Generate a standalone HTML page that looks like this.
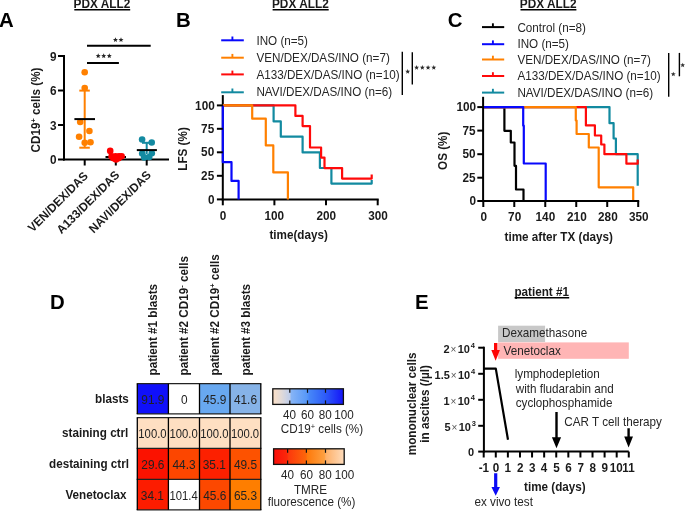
<!DOCTYPE html>
<html><head><meta charset="utf-8"><style>
html,body{margin:0;padding:0;background:#fff;width:685px;height:511px;overflow:hidden}
svg{display:block;will-change:transform}
text{font-family:"Liberation Sans", sans-serif}
</style></head><body>
<svg width="685" height="511" viewBox="0 0 685 511">
<text transform="translate(-1,27.3) scale(1,1.025)" font-size="20.4" font-weight="bold" text-anchor="start" fill="#000" >A</text>
<text transform="translate(73.55,8.1) scale(1,1.025)" font-size="11.85" font-weight="bold" text-anchor="start" fill="#1a1a1a" >PDX ALL2</text>
<line x1="74.3" y1="9.7" x2="130.20000000000002" y2="9.7" stroke="#000" stroke-width="1.5" />
<line x1="64" y1="55" x2="64" y2="160.5" stroke="#000" stroke-width="2" />
<line x1="63" y1="159.5" x2="169" y2="159.5" stroke="#000" stroke-width="2" />
<line x1="58" y1="56" x2="64" y2="56" stroke="#000" stroke-width="2" />
<text transform="translate(50,60.5) scale(1,1.025)" font-size="11.8" font-weight="bold" text-anchor="start" fill="#1a1a1a" >9</text>
<line x1="58" y1="90.5" x2="64" y2="90.5" stroke="#000" stroke-width="2" />
<text transform="translate(50,95.0) scale(1,1.025)" font-size="11.8" font-weight="bold" text-anchor="start" fill="#1a1a1a" >6</text>
<line x1="58" y1="125" x2="64" y2="125" stroke="#000" stroke-width="2" />
<text transform="translate(50,129.5) scale(1,1.025)" font-size="11.8" font-weight="bold" text-anchor="start" fill="#1a1a1a" >3</text>
<line x1="58" y1="159.5" x2="64" y2="159.5" stroke="#000" stroke-width="2" />
<text transform="translate(50,164.0) scale(1,1.025)" font-size="11.8" font-weight="bold" text-anchor="start" fill="#1a1a1a" >0</text>
<line x1="84.7" y1="159.5" x2="84.7" y2="165.5" stroke="#000" stroke-width="2" />
<line x1="115.8" y1="159.5" x2="115.8" y2="165.5" stroke="#000" stroke-width="2" />
<line x1="146.7" y1="159.5" x2="146.7" y2="165.5" stroke="#000" stroke-width="2" />
<text transform="translate(40.25,152.4) rotate(-90) scale(1,1.025)" font-size="11.7" font-weight="bold" text-anchor="start" fill="#1a1a1a" >CD19<tspan font-size="7.5" dy="-4">+</tspan><tspan dy="4"> cells (%)</tspan></text>
<text transform="translate(88.7,176.8) rotate(-45) scale(1,1.025)" font-size="11.7" font-weight="bold" text-anchor="end" fill="#1a1a1a" >VEN/DEX/DAS</text>
<text transform="translate(120.3,175.7) rotate(-45) scale(1,1.025)" font-size="11.7" font-weight="bold" text-anchor="end" fill="#1a1a1a" >A133/DEX/DAS</text>
<text transform="translate(151.8,175.7) rotate(-45) scale(1,1.025)" font-size="11.7" font-weight="bold" text-anchor="end" fill="#1a1a1a" >NAVI/DEX/DAS</text>
<line x1="87" y1="45.8" x2="150.7" y2="45.8" stroke="#000" stroke-width="2" />
<line x1="87" y1="63" x2="118.9" y2="63" stroke="#000" stroke-width="2" />
<polygon points="115.45,37.22 116.15,38.89 117.95,39.04 116.58,40.22 117.00,41.98 115.45,41.03 113.90,41.98 114.32,40.22 112.95,39.04 114.75,38.89" fill="#262626"/>
<polygon points="121.00,37.22 121.70,38.89 123.50,39.04 122.13,40.22 122.55,41.98 121.00,41.03 119.45,41.98 119.87,40.22 118.50,39.04 120.30,38.89" fill="#262626"/>
<polygon points="98.20,53.32 98.90,54.99 100.70,55.14 99.33,56.32 99.75,58.08 98.20,57.13 96.65,58.08 97.07,56.32 95.70,55.14 97.50,54.99" fill="#262626"/>
<polygon points="103.70,53.32 104.40,54.99 106.20,55.14 104.83,56.32 105.25,58.08 103.70,57.13 102.15,58.08 102.57,56.32 101.20,55.14 103.00,54.99" fill="#262626"/>
<polygon points="109.30,53.32 110.00,54.99 111.80,55.14 110.43,56.32 110.85,58.08 109.30,57.13 107.75,58.08 108.17,56.32 106.80,55.14 108.60,54.99" fill="#262626"/>
<line x1="84.7" y1="90.6" x2="84.7" y2="147.7" stroke="#ff8000" stroke-width="2" />
<line x1="79.3" y1="90.6" x2="89.8" y2="90.6" stroke="#ff8000" stroke-width="2" />
<line x1="79.3" y1="147.7" x2="89.8" y2="147.7" stroke="#ff8000" stroke-width="2" />
<circle cx="84.7" cy="72.3" r="3.3" fill="#ff8000"/>
<circle cx="84.7" cy="88" r="3.3" fill="#ff8000"/>
<circle cx="80.2" cy="122" r="3.3" fill="#ff8000"/>
<circle cx="89.4" cy="131" r="3.3" fill="#ff8000"/>
<circle cx="79.1" cy="136.8" r="3.3" fill="#ff8000"/>
<circle cx="84.7" cy="142.8" r="3.3" fill="#ff8000"/>
<circle cx="90.5" cy="142.2" r="3.3" fill="#ff8000"/>
<line x1="74.4" y1="119.1" x2="95" y2="119.1" stroke="#000" stroke-width="2" />
<line x1="105.5" y1="157" x2="126" y2="157" stroke="#000" stroke-width="2" />
<circle cx="110.2" cy="150.9" r="3.3" fill="#ff0000"/>
<circle cx="111.6" cy="156.4" r="3.3" fill="#ff0000"/>
<circle cx="115.5" cy="156.4" r="3.3" fill="#ff0000"/>
<circle cx="119" cy="156.3" r="3.3" fill="#ff0000"/>
<circle cx="121.6" cy="156.3" r="3.3" fill="#ff0000"/>
<circle cx="116" cy="159.4" r="3.3" fill="#ff0000"/>
<circle cx="118.5" cy="158.3" r="3.3" fill="#ff0000"/>
<circle cx="113.5" cy="158.3" r="3.3" fill="#ff0000"/>
<line x1="146.7" y1="142.8" x2="146.7" y2="154" stroke="#138aa1" stroke-width="2" />
<line x1="142" y1="142.8" x2="151.5" y2="142.8" stroke="#138aa1" stroke-width="2" />
<circle cx="142.1" cy="139.5" r="3.3" fill="#138aa1"/>
<circle cx="151.7" cy="142.5" r="3.3" fill="#138aa1"/>
<circle cx="142.2" cy="153.5" r="3.3" fill="#138aa1"/>
<circle cx="151.8" cy="153.3" r="3.3" fill="#138aa1"/>
<circle cx="144.2" cy="157.4" r="3.3" fill="#138aa1"/>
<circle cx="149.2" cy="157" r="3.3" fill="#138aa1"/>
<line x1="136.8" y1="150.1" x2="156.9" y2="150.1" stroke="#000" stroke-width="2" />
<text transform="translate(176,27.2) scale(1,1.025)" font-size="20.4" font-weight="bold" text-anchor="start" fill="#000" >B</text>
<text transform="translate(271.95,8.1) scale(1,1.025)" font-size="11.85" font-weight="bold" text-anchor="start" fill="#1a1a1a" >PDX ALL2</text>
<line x1="272.6" y1="9.7" x2="328.7" y2="9.7" stroke="#000" stroke-width="1.5" />
<line x1="221.2" y1="40.3" x2="243.8" y2="40.3" stroke="#0808fc" stroke-width="2" />
<line x1="232.4" y1="36.5" x2="232.4" y2="40.3" stroke="#0808fc" stroke-width="1.9" />
<text transform="translate(256.4,44.7) scale(1,1.025)" font-size="11.7" font-weight="normal" text-anchor="start" fill="#262626" >INO (n=5)</text>
<line x1="221.2" y1="57.7" x2="243.8" y2="57.7" stroke="#ff8000" stroke-width="2" />
<line x1="232.4" y1="53.900000000000006" x2="232.4" y2="57.7" stroke="#ff8000" stroke-width="1.9" />
<text transform="translate(256.4,61.8) scale(1,1.025)" font-size="11.7" font-weight="normal" text-anchor="start" fill="#262626" >VEN/DEX/DAS/INO (n=7)</text>
<line x1="221.2" y1="74.4" x2="243.8" y2="74.4" stroke="#ff0a0a" stroke-width="2" />
<line x1="232.4" y1="70.60000000000001" x2="232.4" y2="74.4" stroke="#ff0a0a" stroke-width="1.9" />
<text transform="translate(256.4,78.6) scale(1,1.025)" font-size="11.7" font-weight="normal" text-anchor="start" fill="#262626" >A133/DEX/DAS/INO (n=10)</text>
<line x1="221.2" y1="92.3" x2="243.8" y2="92.3" stroke="#128aa0" stroke-width="2" />
<line x1="232.4" y1="88.5" x2="232.4" y2="92.3" stroke="#128aa0" stroke-width="1.9" />
<text transform="translate(256.4,96.0) scale(1,1.025)" font-size="11.7" font-weight="normal" text-anchor="start" fill="#262626" >NAVI/DEX/DAS/INO (n=6)</text>
<line x1="402.3" y1="51.7" x2="402.3" y2="95" stroke="#000" stroke-width="1.4" />
<line x1="412.3" y1="52.3" x2="412.3" y2="84.6" stroke="#000" stroke-width="1.4" />
<polygon points="407.70,69.02 408.34,70.72 410.15,70.80 408.73,71.93 409.21,73.68 407.70,72.68 406.19,73.68 406.67,71.93 405.25,70.80 407.06,70.72" fill="#2a2a2a"/>
<polygon points="416.60,65.07 417.24,66.77 419.05,66.85 417.63,67.98 418.11,69.73 416.60,68.73 415.09,69.73 415.57,67.98 414.15,66.85 415.96,66.77" fill="#2a2a2a"/>
<polygon points="422.33,65.07 422.97,66.77 424.78,66.85 423.36,67.98 423.84,69.73 422.33,68.73 420.82,69.73 421.30,67.98 419.88,66.85 421.69,66.77" fill="#2a2a2a"/>
<polygon points="428.06,65.07 428.70,66.77 430.51,66.85 429.09,67.98 429.57,69.73 428.06,68.73 426.55,69.73 427.03,67.98 425.61,66.85 427.42,66.77" fill="#2a2a2a"/>
<polygon points="433.79,65.07 434.43,66.77 436.24,66.85 434.82,67.98 435.30,69.73 433.79,68.73 432.28,69.73 432.76,67.98 431.34,66.85 433.15,66.77" fill="#2a2a2a"/>
<line x1="222.8" y1="95.1" x2="222.8" y2="200.5" stroke="#000" stroke-width="2" />
<line x1="221.8" y1="199.5" x2="378.7" y2="199.5" stroke="#000" stroke-width="2" />
<path d="M222.8,105.4 H273.6 V121.4 H280.8 V136.7 H302.6 V152.4 H319.9 V168.0 H331.4 V183.6 H371.7 V180.0" fill="none" stroke="#128aa0" stroke-width="2.2" stroke-linejoin="round" stroke-linecap="butt" />
<path d="M222.8,105.4 H295.4 V115.9 H302.6 V126.1 H310 V147.5 H321.1 V157.6 H324.5 V168.1 H342.1 V178.6 H371.7 V174.6" fill="none" stroke="#ff0a0a" stroke-width="2.2" stroke-linejoin="round" stroke-linecap="butt" />
<path d="M222.8,105.4 H252.2 V118.7 H265.8 V145.4 H273.3 V172.4 H287.9 V199.4" fill="none" stroke="#ff8000" stroke-width="2.2" stroke-linejoin="round" stroke-linecap="butt" />
<path d="M222.8,105.4 V162.2 H231.5 V180.9 H238.6 V199.4" fill="none" stroke="#0808fc" stroke-width="2.2" stroke-linejoin="round" stroke-linecap="butt" />
<line x1="216.9" y1="105.4" x2="222.8" y2="105.4" stroke="#000" stroke-width="2" />
<text transform="translate(195.1,109.5) scale(1,1.025)" font-size="11.8" font-weight="bold" text-anchor="start" fill="#1a1a1a" >100</text>
<line x1="216.9" y1="128.8" x2="222.8" y2="128.8" stroke="#000" stroke-width="2" />
<text transform="translate(201.1,132.9) scale(1,1.025)" font-size="11.8" font-weight="bold" text-anchor="start" fill="#1a1a1a" >75</text>
<line x1="216.9" y1="152.3" x2="222.8" y2="152.3" stroke="#000" stroke-width="2" />
<text transform="translate(201.1,156.4) scale(1,1.025)" font-size="11.8" font-weight="bold" text-anchor="start" fill="#1a1a1a" >50</text>
<line x1="216.9" y1="175.8" x2="222.8" y2="175.8" stroke="#000" stroke-width="2" />
<text transform="translate(201.1,179.9) scale(1,1.025)" font-size="11.8" font-weight="bold" text-anchor="start" fill="#1a1a1a" >25</text>
<line x1="216.9" y1="199.4" x2="222.8" y2="199.4" stroke="#000" stroke-width="2" />
<text transform="translate(208.1,203.5) scale(1,1.025)" font-size="11.8" font-weight="bold" text-anchor="start" fill="#1a1a1a" >0</text>
<line x1="222.8" y1="199.5" x2="222.8" y2="205.3" stroke="#000" stroke-width="2" />
<text transform="translate(219.8,219.7) scale(1,1.025)" font-size="11.8" font-weight="bold" text-anchor="start" fill="#1a1a1a" >0</text>
<line x1="274.4" y1="199.5" x2="274.4" y2="205.3" stroke="#000" stroke-width="2" />
<text transform="translate(264.4,219.7) scale(1,1.025)" font-size="11.8" font-weight="bold" text-anchor="start" fill="#1a1a1a" >100</text>
<line x1="326.0" y1="199.5" x2="326.0" y2="205.3" stroke="#000" stroke-width="2" />
<text transform="translate(316.5,219.7) scale(1,1.025)" font-size="11.8" font-weight="bold" text-anchor="start" fill="#1a1a1a" >200</text>
<line x1="377.7" y1="199.5" x2="377.7" y2="205.3" stroke="#000" stroke-width="2" />
<text transform="translate(368.2,219.7) scale(1,1.025)" font-size="11.8" font-weight="bold" text-anchor="start" fill="#1a1a1a" >300</text>
<text transform="translate(269.4,239.1) scale(1,1.025)" font-size="11.7" font-weight="bold" text-anchor="start" fill="#1a1a1a" >time(days)</text>
<text transform="translate(187.15,170.7) rotate(-90) scale(1,1.025)" font-size="11.7" font-weight="bold" text-anchor="start" fill="#1a1a1a" >LFS (%)</text>
<text transform="translate(447.8,27.2) scale(1,1.025)" font-size="20.4" font-weight="bold" text-anchor="start" fill="#000" >C</text>
<text transform="translate(519.75,8.1) scale(1,1.025)" font-size="11.85" font-weight="bold" text-anchor="start" fill="#1a1a1a" >PDX ALL2</text>
<line x1="520.5" y1="9.7" x2="576.4" y2="9.7" stroke="#000" stroke-width="1.5" />
<line x1="482" y1="27.1" x2="504.2" y2="27.1" stroke="#000" stroke-width="2" />
<line x1="492.9" y1="23.3" x2="492.9" y2="27.1" stroke="#000" stroke-width="1.9" />
<text transform="translate(517.4,31.6) scale(1,1.025)" font-size="11.7" font-weight="normal" text-anchor="start" fill="#262626" >Control (n=8)</text>
<line x1="482" y1="44.2" x2="504.2" y2="44.2" stroke="#0808fc" stroke-width="2" />
<line x1="492.9" y1="40.400000000000006" x2="492.9" y2="44.2" stroke="#0808fc" stroke-width="1.9" />
<text transform="translate(517.4,48.2) scale(1,1.025)" font-size="11.7" font-weight="normal" text-anchor="start" fill="#262626" >INO (n=5)</text>
<line x1="482" y1="59.5" x2="504.2" y2="59.5" stroke="#ff8000" stroke-width="2" />
<line x1="492.9" y1="55.7" x2="492.9" y2="59.5" stroke="#ff8000" stroke-width="1.9" />
<text transform="translate(517.4,63.5) scale(1,1.025)" font-size="11.7" font-weight="normal" text-anchor="start" fill="#262626" >VEN/DEX/DAS/INO (n=7)</text>
<line x1="482" y1="76.0" x2="504.2" y2="76.0" stroke="#ff0a0a" stroke-width="2" />
<line x1="492.9" y1="72.2" x2="492.9" y2="76.0" stroke="#ff0a0a" stroke-width="1.9" />
<text transform="translate(517.4,80.3) scale(1,1.025)" font-size="11.7" font-weight="normal" text-anchor="start" fill="#262626" >A133/DEX/DAS/INO (n=10)</text>
<line x1="482" y1="92.6" x2="504.2" y2="92.6" stroke="#128aa0" stroke-width="2" />
<line x1="492.9" y1="88.8" x2="492.9" y2="92.6" stroke="#128aa0" stroke-width="1.9" />
<text transform="translate(517.4,96.9) scale(1,1.025)" font-size="11.7" font-weight="normal" text-anchor="start" fill="#262626" >NAVI/DEX/DAS/INO (n=6)</text>
<line x1="668.7" y1="52.9" x2="668.7" y2="96.7" stroke="#000" stroke-width="1.4" />
<line x1="679.4" y1="52.9" x2="679.4" y2="76.3" stroke="#000" stroke-width="1.4" />
<polygon points="673.30,71.67 673.94,73.37 675.75,73.45 674.33,74.58 674.81,76.33 673.30,75.33 671.79,76.33 672.27,74.58 670.85,73.45 672.66,73.37" fill="#333"/>
<polygon points="682.70,62.67 683.34,64.37 685.15,64.45 683.73,65.58 684.21,67.33 682.70,66.33 681.19,67.33 681.67,65.58 680.25,64.45 682.06,64.37" fill="#333"/>
<path d="M483.1,107.1 H504.4 V130.8 H510.8 V142.5 H514.5 V165.8 H516 V189.5 H523.5 V201" fill="none" stroke="#000" stroke-width="2.2" stroke-linejoin="round" stroke-linecap="butt" />
<path d="M483.1,107.1 H609.5 V123.2 H613.6 V138.5 H615.9 V154.2 H637.7 V185.8" fill="none" stroke="#128aa0" stroke-width="2.2" stroke-linejoin="round" stroke-linecap="butt" />
<path d="M483.1,107.1 H585.9 V125.4 H594.9 V135.5 H601.2 V144.5 H604.4 V154.2 H626.4 V163.7 H637.7 V159.6" fill="none" stroke="#ff0a0a" stroke-width="2.2" stroke-linejoin="round" stroke-linecap="butt" />
<path d="M483.1,107.1 H575.8 V120.5 H576.6 V134 H588.8 V147.5 H598.7 V187.3 H633.2 V201" fill="none" stroke="#ff8000" stroke-width="2.2" stroke-linejoin="round" stroke-linecap="butt" />
<path d="M483.1,107.1 H523.2 V125.7 H523.8 V163.5 H545.7 V201" fill="none" stroke="#0808fc" stroke-width="2.2" stroke-linejoin="round" stroke-linecap="butt" />
<line x1="483.1" y1="96.8" x2="483.1" y2="202" stroke="#000" stroke-width="2" />
<line x1="482.1" y1="201" x2="639.2" y2="201" stroke="#000" stroke-width="2" />
<line x1="477.3" y1="107.1" x2="483.1" y2="107.1" stroke="#000" stroke-width="2" />
<text transform="translate(456.4,111.3) scale(1,1.025)" font-size="11.8" font-weight="bold" text-anchor="start" fill="#1a1a1a" >100</text>
<line x1="477.3" y1="130.6" x2="483.1" y2="130.6" stroke="#000" stroke-width="2" />
<text transform="translate(462.4,134.8) scale(1,1.025)" font-size="11.8" font-weight="bold" text-anchor="start" fill="#1a1a1a" >75</text>
<line x1="477.3" y1="154.2" x2="483.1" y2="154.2" stroke="#000" stroke-width="2" />
<text transform="translate(462.4,158.4) scale(1,1.025)" font-size="11.8" font-weight="bold" text-anchor="start" fill="#1a1a1a" >50</text>
<line x1="477.3" y1="177.7" x2="483.1" y2="177.7" stroke="#000" stroke-width="2" />
<text transform="translate(462.4,181.9) scale(1,1.025)" font-size="11.8" font-weight="bold" text-anchor="start" fill="#1a1a1a" >25</text>
<line x1="477.3" y1="201" x2="483.1" y2="201" stroke="#000" stroke-width="2" />
<text transform="translate(469.4,205.2) scale(1,1.025)" font-size="11.8" font-weight="bold" text-anchor="start" fill="#1a1a1a" >0</text>
<line x1="483.3" y1="201" x2="483.3" y2="207" stroke="#000" stroke-width="2" />
<text transform="translate(480.6,221.3) scale(1,1.025)" font-size="11.8" font-weight="bold" text-anchor="start" fill="#1a1a1a" >0</text>
<line x1="514.28" y1="201" x2="514.28" y2="207" stroke="#000" stroke-width="2" />
<text transform="translate(508.08,221.3) scale(1,1.025)" font-size="11.8" font-weight="bold" text-anchor="start" fill="#1a1a1a" >70</text>
<line x1="545.26" y1="201" x2="545.26" y2="207" stroke="#000" stroke-width="2" />
<text transform="translate(535.56,221.3) scale(1,1.025)" font-size="11.8" font-weight="bold" text-anchor="start" fill="#1a1a1a" >140</text>
<line x1="576.24" y1="201" x2="576.24" y2="207" stroke="#000" stroke-width="2" />
<text transform="translate(567.04,221.3) scale(1,1.025)" font-size="11.8" font-weight="bold" text-anchor="start" fill="#1a1a1a" >210</text>
<line x1="607.22" y1="201" x2="607.22" y2="207" stroke="#000" stroke-width="2" />
<text transform="translate(598.02,221.3) scale(1,1.025)" font-size="11.8" font-weight="bold" text-anchor="start" fill="#1a1a1a" >280</text>
<line x1="638.2" y1="201" x2="638.2" y2="207" stroke="#000" stroke-width="2" />
<text transform="translate(629.0,221.3) scale(1,1.025)" font-size="11.8" font-weight="bold" text-anchor="start" fill="#1a1a1a" >350</text>
<text transform="translate(504.5,240.9) scale(1,1.025)" font-size="11.7" font-weight="bold" text-anchor="start" fill="#1a1a1a" >time after TX (days)</text>
<text transform="translate(447.45,169.95) rotate(-90) scale(1,1.025)" font-size="11.7" font-weight="bold" text-anchor="start" fill="#1a1a1a" >OS (%)</text>
<text transform="translate(50,309.4) scale(1,1.025)" font-size="20.4" font-weight="bold" text-anchor="start" fill="#000" >D</text>
<rect x="137.3" y="383.7" width="31.1" height="30.2" fill="#1010fa"/>
<rect x="168.4" y="383.7" width="31.1" height="30.2" fill="#ffffff"/>
<rect x="199.5" y="383.7" width="30.5" height="30.2" fill="#68a8f0"/>
<rect x="230.0" y="383.7" width="30.8" height="30.2" fill="#86b3e8"/>
<rect x="137.3" y="417.7" width="31.1" height="30.7" fill="#fedfc2"/>
<rect x="168.4" y="417.7" width="31.1" height="30.7" fill="#fedfc2"/>
<rect x="199.5" y="417.7" width="30.5" height="30.7" fill="#fedfc2"/>
<rect x="230.0" y="417.7" width="30.8" height="30.7" fill="#fedfc2"/>
<rect x="137.3" y="448.4" width="31.1" height="30.9" fill="#fb1200"/>
<rect x="168.4" y="448.4" width="31.1" height="30.9" fill="#fc4600"/>
<rect x="199.5" y="448.4" width="30.5" height="30.9" fill="#fc2000"/>
<rect x="230.0" y="448.4" width="30.8" height="30.9" fill="#fd5200"/>
<rect x="137.3" y="479.3" width="31.1" height="30.6" fill="#fc1c00"/>
<rect x="168.4" y="479.3" width="31.1" height="30.6" fill="#ffffff"/>
<rect x="199.5" y="479.3" width="30.5" height="30.6" fill="#fc4800"/>
<rect x="230.0" y="479.3" width="30.8" height="30.6" fill="#fe7e00"/>
<line x1="136.70000000000002" y1="383.7" x2="261.40000000000003" y2="383.7" stroke="#222" stroke-width="1.2" />
<line x1="136.70000000000002" y1="413.9" x2="261.40000000000003" y2="413.9" stroke="#222" stroke-width="1.2" />
<line x1="137.3" y1="383.7" x2="137.3" y2="413.9" stroke="#000" stroke-width="1.3" />
<line x1="168.4" y1="383.7" x2="168.4" y2="413.9" stroke="#000" stroke-width="1.3" />
<line x1="199.5" y1="383.7" x2="199.5" y2="413.9" stroke="#000" stroke-width="1.3" />
<line x1="230.0" y1="383.7" x2="230.0" y2="413.9" stroke="#000" stroke-width="1.3" />
<line x1="260.8" y1="383.7" x2="260.8" y2="413.9" stroke="#000" stroke-width="1.3" />
<line x1="136.70000000000002" y1="417.7" x2="261.40000000000003" y2="417.7" stroke="#222" stroke-width="1.2" />
<line x1="136.70000000000002" y1="448.4" x2="261.40000000000003" y2="448.4" stroke="#222" stroke-width="1.2" />
<line x1="136.70000000000002" y1="479.3" x2="261.40000000000003" y2="479.3" stroke="#222" stroke-width="1.2" />
<line x1="136.70000000000002" y1="509.9" x2="261.40000000000003" y2="509.9" stroke="#222" stroke-width="1.2" />
<line x1="137.3" y1="417.7" x2="137.3" y2="509.9" stroke="#000" stroke-width="1.3" />
<line x1="168.4" y1="417.7" x2="168.4" y2="509.9" stroke="#000" stroke-width="1.3" />
<line x1="199.5" y1="417.7" x2="199.5" y2="509.9" stroke="#000" stroke-width="1.3" />
<line x1="230.0" y1="417.7" x2="230.0" y2="509.9" stroke="#000" stroke-width="1.3" />
<line x1="260.8" y1="417.7" x2="260.8" y2="509.9" stroke="#000" stroke-width="1.3" />
<text transform="translate(141.35,403.7) scale(1,1.025)" font-size="11.9" font-weight="normal" text-anchor="start" fill="#222" >91.9</text>
<text transform="translate(180.95,403.7) scale(1,1.025)" font-size="11.9" font-weight="normal" text-anchor="start" fill="#222" >0</text>
<text transform="translate(203.25,403.7) scale(1,1.025)" font-size="11.9" font-weight="normal" text-anchor="start" fill="#222" >45.9</text>
<text transform="translate(233.9,403.7) scale(1,1.025)" font-size="11.9" font-weight="normal" text-anchor="start" fill="#222" >41.6</text>
<text transform="translate(138.35,437.95) scale(1,1.025)" font-size="11.9" font-weight="normal" text-anchor="start" fill="#222" ><tspan textLength="28.2" lengthAdjust="spacingAndGlyphs">100.0</tspan></text>
<text transform="translate(169.45,437.95) scale(1,1.025)" font-size="11.9" font-weight="normal" text-anchor="start" fill="#222" ><tspan textLength="28.2" lengthAdjust="spacingAndGlyphs">100.0</tspan></text>
<text transform="translate(200.25,437.95) scale(1,1.025)" font-size="11.9" font-weight="normal" text-anchor="start" fill="#222" ><tspan textLength="28.2" lengthAdjust="spacingAndGlyphs">100.0</tspan></text>
<text transform="translate(230.9,437.95) scale(1,1.025)" font-size="11.9" font-weight="normal" text-anchor="start" fill="#222" ><tspan textLength="28.2" lengthAdjust="spacingAndGlyphs">100.0</tspan></text>
<text transform="translate(141.35,468.75) scale(1,1.025)" font-size="11.9" font-weight="normal" text-anchor="start" fill="#222" >29.6</text>
<text transform="translate(172.45,468.75) scale(1,1.025)" font-size="11.9" font-weight="normal" text-anchor="start" fill="#222" >44.3</text>
<text transform="translate(202.75,468.75) scale(1,1.025)" font-size="11.9" font-weight="normal" text-anchor="start" fill="#222" >35.1</text>
<text transform="translate(233.9,468.75) scale(1,1.025)" font-size="11.9" font-weight="normal" text-anchor="start" fill="#222" >49.5</text>
<text transform="translate(140.85,499.5) scale(1,1.025)" font-size="11.9" font-weight="normal" text-anchor="start" fill="#222" >34.1</text>
<text transform="translate(169.45,499.5) scale(1,1.025)" font-size="11.9" font-weight="normal" text-anchor="start" fill="#222" ><tspan textLength="28.2" lengthAdjust="spacingAndGlyphs">101.4</tspan></text>
<text transform="translate(203.25,499.5) scale(1,1.025)" font-size="11.9" font-weight="normal" text-anchor="start" fill="#222" >45.6</text>
<text transform="translate(233.9,499.5) scale(1,1.025)" font-size="11.9" font-weight="normal" text-anchor="start" fill="#222" >65.3</text>
<text transform="translate(95.1,402.8) scale(1,1.025)" font-size="11.7" font-weight="bold" text-anchor="start" fill="#1a1a1a" >blasts</text>
<text transform="translate(62.1,436.7) scale(1,1.025)" font-size="11.7" font-weight="bold" text-anchor="start" fill="#1a1a1a" >staining ctrl</text>
<text transform="translate(49.1,468) scale(1,1.025)" font-size="11.7" font-weight="bold" text-anchor="start" fill="#1a1a1a" >destaining ctrl</text>
<text transform="translate(65.4,499.2) scale(1,1.025)" font-size="11.7" font-weight="bold" text-anchor="start" fill="#1a1a1a" >Venetoclax</text>
<text transform="translate(157.0,375.5) rotate(-90) scale(1,1.025)" font-size="11.7" font-weight="bold" text-anchor="start" fill="#1a1a1a" >patient #1 blasts</text>
<text transform="translate(187.85,375.5) rotate(-90) scale(1,1.025)" font-size="11.7" font-weight="bold" text-anchor="start" fill="#1a1a1a" >patient #2 CD19<tspan font-size="7.5" dy="-4">-</tspan><tspan dy="4"> cells</tspan></text>
<text transform="translate(218.7,375.5) rotate(-90) scale(1,1.025)" font-size="11.7" font-weight="bold" text-anchor="start" fill="#1a1a1a" >patient #2 CD19<tspan font-size="7.5" dy="-4">+</tspan><tspan dy="4"> cells</tspan></text>
<text transform="translate(249.55,375.5) rotate(-90) scale(1,1.025)" font-size="11.7" font-weight="bold" text-anchor="start" fill="#1a1a1a" >patient #3 blasts</text>
<defs>
<linearGradient id="g1" x1="0" x2="1" y1="0" y2="0">
<stop offset="0" stop-color="#fde0c6"/><stop offset="0.12" stop-color="#e2dad8"/><stop offset="0.24" stop-color="#bfcdea"/>
<stop offset="0.26" stop-color="#86b4f6"/><stop offset="0.48" stop-color="#5898f8"/><stop offset="0.52" stop-color="#4686f8"/>
<stop offset="0.74" stop-color="#2e5cf8"/><stop offset="1" stop-color="#1414f8"/></linearGradient>
<linearGradient id="g2" x1="0" x2="1" y1="0" y2="0">
<stop offset="0" stop-color="#fa0e0a"/><stop offset="0.19" stop-color="#fb280a"/><stop offset="0.21" stop-color="#fc380c"/><stop offset="0.46" stop-color="#fd660a"/>
<stop offset="0.48" stop-color="#fe7a0c"/><stop offset="0.72" stop-color="#fea040"/><stop offset="0.74" stop-color="#feb068"/><stop offset="1" stop-color="#fedcbc"/></linearGradient>
</defs>
<rect x="272.8" y="388.8" width="70.6" height="15.6" fill="url(#g1)" stroke="#111" stroke-width="1.3"/>
<line x1="289.8" y1="389" x2="289.8" y2="392.8" stroke="#111" stroke-width="1.2" />
<line x1="289.8" y1="400.4" x2="289.8" y2="404.4" stroke="#111" stroke-width="1.2" />
<line x1="307.5" y1="389" x2="307.5" y2="392.8" stroke="#111" stroke-width="1.2" />
<line x1="307.5" y1="400.4" x2="307.5" y2="404.4" stroke="#111" stroke-width="1.2" />
<line x1="325.5" y1="389" x2="325.5" y2="392.8" stroke="#111" stroke-width="1.2" />
<line x1="325.5" y1="400.4" x2="325.5" y2="404.4" stroke="#111" stroke-width="1.2" />
<text transform="translate(282.9,418.5) scale(1,1.025)" font-size="11.7" font-weight="normal" text-anchor="start" fill="#262626" >40</text>
<text transform="translate(301.1,418.5) scale(1,1.025)" font-size="11.7" font-weight="normal" text-anchor="start" fill="#262626" >60</text>
<text transform="translate(318.7,418.5) scale(1,1.025)" font-size="11.7" font-weight="normal" text-anchor="start" fill="#262626" >80</text>
<text transform="translate(334.2,418.5) scale(1,1.025)" font-size="11.7" font-weight="normal" text-anchor="start" fill="#262626" >100</text>
<text transform="translate(280.85,432.7) scale(1,1.025)" font-size="11.7" font-weight="normal" text-anchor="start" fill="#262626" >CD19<tspan font-size="7.5" dy="-4">+</tspan><tspan dy="4"> cells (%)</tspan></text>
<rect x="273.6" y="448.8" width="70.6" height="15.6" fill="url(#g2)" stroke="#111" stroke-width="1.3"/>
<line x1="287.6" y1="449" x2="287.6" y2="452.8" stroke="#111" stroke-width="1.2" />
<line x1="287.6" y1="460.4" x2="287.6" y2="464.4" stroke="#111" stroke-width="1.2" />
<line x1="306.4" y1="449" x2="306.4" y2="452.8" stroke="#111" stroke-width="1.2" />
<line x1="306.4" y1="460.4" x2="306.4" y2="464.4" stroke="#111" stroke-width="1.2" />
<line x1="325.5" y1="449" x2="325.5" y2="452.8" stroke="#111" stroke-width="1.2" />
<line x1="325.5" y1="460.4" x2="325.5" y2="464.4" stroke="#111" stroke-width="1.2" />
<text transform="translate(281.0,478.5) scale(1,1.025)" font-size="11.7" font-weight="normal" text-anchor="start" fill="#262626" >40</text>
<text transform="translate(299.9,478.5) scale(1,1.025)" font-size="11.7" font-weight="normal" text-anchor="start" fill="#262626" >60</text>
<text transform="translate(318.7,478.5) scale(1,1.025)" font-size="11.7" font-weight="normal" text-anchor="start" fill="#262626" >80</text>
<text transform="translate(334.8,478.5) scale(1,1.025)" font-size="11.7" font-weight="normal" text-anchor="start" fill="#262626" >100</text>
<text transform="translate(293.95,493.8) scale(1,1.025)" font-size="11.7" font-weight="normal" text-anchor="start" fill="#262626" >TMRE</text>
<text transform="translate(267.65,505.8) scale(1,1.025)" font-size="11.7" font-weight="normal" text-anchor="start" fill="#262626" >fluorescence (%)</text>
<text transform="translate(415,309.1) scale(1,1.025)" font-size="20.4" font-weight="bold" text-anchor="start" fill="#000" >E</text>
<text transform="translate(514.4,296.2) scale(1,1.025)" font-size="11.7" font-weight="bold" text-anchor="start" fill="#1a1a1a" >patient #1</text>
<line x1="514.6" y1="297.7" x2="569.2" y2="297.7" stroke="#000" stroke-width="1.4" />
<rect x="498.1" y="325.7" width="47" height="16.3" fill="#c8c8c8"/>
<rect x="498.1" y="342.4" width="130.7" height="16.4" fill="#ffb5b5"/>
<text transform="translate(502.1,336.9) scale(1,1.025)" font-size="11.7" font-weight="normal" text-anchor="start" fill="#262626" >Dexamethasone</text>
<text transform="translate(503.6,354.5) scale(1,1.025)" font-size="11.7" font-weight="normal" text-anchor="start" fill="#262626" >Venetoclax</text>
<path d="M494.0,343.0 H497.4 V349.9 H499.9 L495.65,360.8 L491.3,349.9 H494.0 Z" fill="#fe0505"/>
<line x1="483.9" y1="346.7" x2="483.9" y2="452.6" stroke="#000" stroke-width="2" />
<line x1="483.4" y1="451.6" x2="628.8" y2="451.6" stroke="#000" stroke-width="2" />
<line x1="478.2" y1="347.7" x2="483.9" y2="347.7" stroke="#000" stroke-width="2" />
<line x1="478.2" y1="373.8" x2="483.9" y2="373.8" stroke="#000" stroke-width="2" />
<line x1="478.2" y1="399.8" x2="483.9" y2="399.8" stroke="#000" stroke-width="2" />
<line x1="478.2" y1="425.8" x2="483.9" y2="425.8" stroke="#000" stroke-width="2" />
<line x1="478.2" y1="451.6" x2="483.9" y2="451.6" stroke="#000" stroke-width="2" />
<text transform="translate(443.6,352.7) scale(1,1.025)" font-size="11" font-weight="bold" text-anchor="start" fill="#1a1a1a" >2<tspan font-weight="normal" font-size="10" fill="#555" dx="0.8">×</tspan><tspan dx="1.4">10</tspan><tspan font-size="7.5" dy="-5" dx="0.8">4</tspan></text>
<text transform="translate(434.6,378.8) scale(1,1.025)" font-size="11" font-weight="bold" text-anchor="start" fill="#1a1a1a" >1.5<tspan font-weight="normal" font-size="10" fill="#555" dx="0.8">×</tspan><tspan dx="1.4">10</tspan><tspan font-size="7.5" dy="-5" dx="0.8">4</tspan></text>
<text transform="translate(443.6,404.8) scale(1,1.025)" font-size="11" font-weight="bold" text-anchor="start" fill="#1a1a1a" >1<tspan font-weight="normal" font-size="10" fill="#555" dx="0.8">×</tspan><tspan dx="1.4">10</tspan><tspan font-size="7.5" dy="-5" dx="0.8">4</tspan></text>
<text transform="translate(444.6,430.8) scale(1,1.025)" font-size="11" font-weight="bold" text-anchor="start" fill="#1a1a1a" >5<tspan font-weight="normal" font-size="10" fill="#555" dx="0.8">×</tspan><tspan dx="1.4">10</tspan><tspan font-size="7.5" dy="-5" dx="0.8">3</tspan></text>
<text transform="translate(468.1,455.6) scale(1,1.025)" font-size="11" font-weight="bold" text-anchor="start" fill="#1a1a1a" >0</text>
<line x1="483.7" y1="451.6" x2="483.7" y2="457.5" stroke="#000" stroke-width="2" />
<text transform="translate(478.7,471.5) scale(1,1.025)" font-size="11.7" font-weight="bold" text-anchor="start" fill="#1a1a1a" >-1</text>
<line x1="495.78999999999996" y1="451.6" x2="495.78999999999996" y2="457.5" stroke="#000" stroke-width="2" />
<text transform="translate(492.79,471.5) scale(1,1.025)" font-size="11.7" font-weight="bold" text-anchor="start" fill="#1a1a1a" >0</text>
<line x1="507.88" y1="451.6" x2="507.88" y2="457.5" stroke="#000" stroke-width="2" />
<text transform="translate(504.38,471.5) scale(1,1.025)" font-size="11.7" font-weight="bold" text-anchor="start" fill="#1a1a1a" >1</text>
<line x1="519.97" y1="451.6" x2="519.97" y2="457.5" stroke="#000" stroke-width="2" />
<text transform="translate(516.97,471.5) scale(1,1.025)" font-size="11.7" font-weight="bold" text-anchor="start" fill="#1a1a1a" >2</text>
<line x1="532.06" y1="451.6" x2="532.06" y2="457.5" stroke="#000" stroke-width="2" />
<text transform="translate(529.06,471.5) scale(1,1.025)" font-size="11.7" font-weight="bold" text-anchor="start" fill="#1a1a1a" >3</text>
<line x1="544.15" y1="451.6" x2="544.15" y2="457.5" stroke="#000" stroke-width="2" />
<text transform="translate(540.65,471.5) scale(1,1.025)" font-size="11.7" font-weight="bold" text-anchor="start" fill="#1a1a1a" >4</text>
<line x1="556.24" y1="451.6" x2="556.24" y2="457.5" stroke="#000" stroke-width="2" />
<text transform="translate(553.24,471.5) scale(1,1.025)" font-size="11.7" font-weight="bold" text-anchor="start" fill="#1a1a1a" >5</text>
<line x1="568.3299999999999" y1="451.6" x2="568.3299999999999" y2="457.5" stroke="#000" stroke-width="2" />
<text transform="translate(565.33,471.5) scale(1,1.025)" font-size="11.7" font-weight="bold" text-anchor="start" fill="#1a1a1a" >6</text>
<line x1="580.42" y1="451.6" x2="580.42" y2="457.5" stroke="#000" stroke-width="2" />
<text transform="translate(577.42,471.5) scale(1,1.025)" font-size="11.7" font-weight="bold" text-anchor="start" fill="#1a1a1a" >7</text>
<line x1="592.51" y1="451.6" x2="592.51" y2="457.5" stroke="#000" stroke-width="2" />
<text transform="translate(589.51,471.5) scale(1,1.025)" font-size="11.7" font-weight="bold" text-anchor="start" fill="#1a1a1a" >8</text>
<line x1="604.6" y1="451.6" x2="604.6" y2="457.5" stroke="#000" stroke-width="2" />
<text transform="translate(601.6,471.5) scale(1,1.025)" font-size="11.7" font-weight="bold" text-anchor="start" fill="#1a1a1a" >9</text>
<line x1="616.69" y1="451.6" x2="616.69" y2="457.5" stroke="#000" stroke-width="2" />
<text transform="translate(609.69,471.5) scale(1,1.025)" font-size="11.7" font-weight="bold" text-anchor="start" fill="#1a1a1a" >10</text>
<line x1="628.78" y1="451.6" x2="628.78" y2="457.5" stroke="#000" stroke-width="2" />
<text transform="translate(622.28,471.5) scale(1,1.025)" font-size="11.7" font-weight="bold" text-anchor="start" fill="#1a1a1a" >11</text>
<text transform="translate(524.0,490.6) scale(1,1.025)" font-size="11.7" font-weight="bold" text-anchor="start" fill="#1a1a1a" >time (days)</text>
<text transform="translate(416.2,455.15) rotate(-90) scale(1,1.025)" font-size="11.7" font-weight="bold" text-anchor="start" fill="#1a1a1a" >mononuclear cells</text>
<text transform="translate(428.5,442.65) rotate(-90) scale(1,1.025)" font-size="11.7" font-weight="bold" text-anchor="start" fill="#1a1a1a" >in ascites (/µl)</text>
<path d="M483.9,368.6 H495.8 L508,439.7" fill="none" stroke="#000" stroke-width="2.2" stroke-linejoin="round" stroke-linecap="butt" />
<text transform="translate(514.7,378.3) scale(1,1.025)" font-size="11.7" font-weight="normal" text-anchor="start" fill="#262626" >lymphodepletion</text>
<text transform="translate(515.7,392.7) scale(1,1.025)" font-size="11.7" font-weight="normal" text-anchor="start" fill="#262626" >with fludarabin and</text>
<text transform="translate(515.7,407) scale(1,1.025)" font-size="11.7" font-weight="normal" text-anchor="start" fill="#262626" >cyclophosphamide</text>
<text transform="translate(564.3,425.6) scale(1,1.025)" font-size="11.7" font-weight="normal" text-anchor="start" fill="#262626" >CAR T cell therapy</text>
<path d="M555.3,411.9 H557.7 V437.2 H561.1 L556.5,448.2 L551.9,437.2 H555.3 Z" fill="#000"/>
<path d="M627.4,428.2 H629.8000000000001 V436.5 H633.0 L628.6,447.6 L624.2,436.5 H627.4 Z" fill="#000"/>
<path d="M494.09999999999997,473.2 H497.3 V487.0 H499.95 L495.7,495.8 L491.45,487.0 H494.09999999999997 Z" fill="#0a0af5"/>
<text transform="translate(474.5,505.5) scale(1,1.025)" font-size="11.7" font-weight="normal" text-anchor="start" fill="#262626" >ex vivo test</text>
</svg>
</body></html>
